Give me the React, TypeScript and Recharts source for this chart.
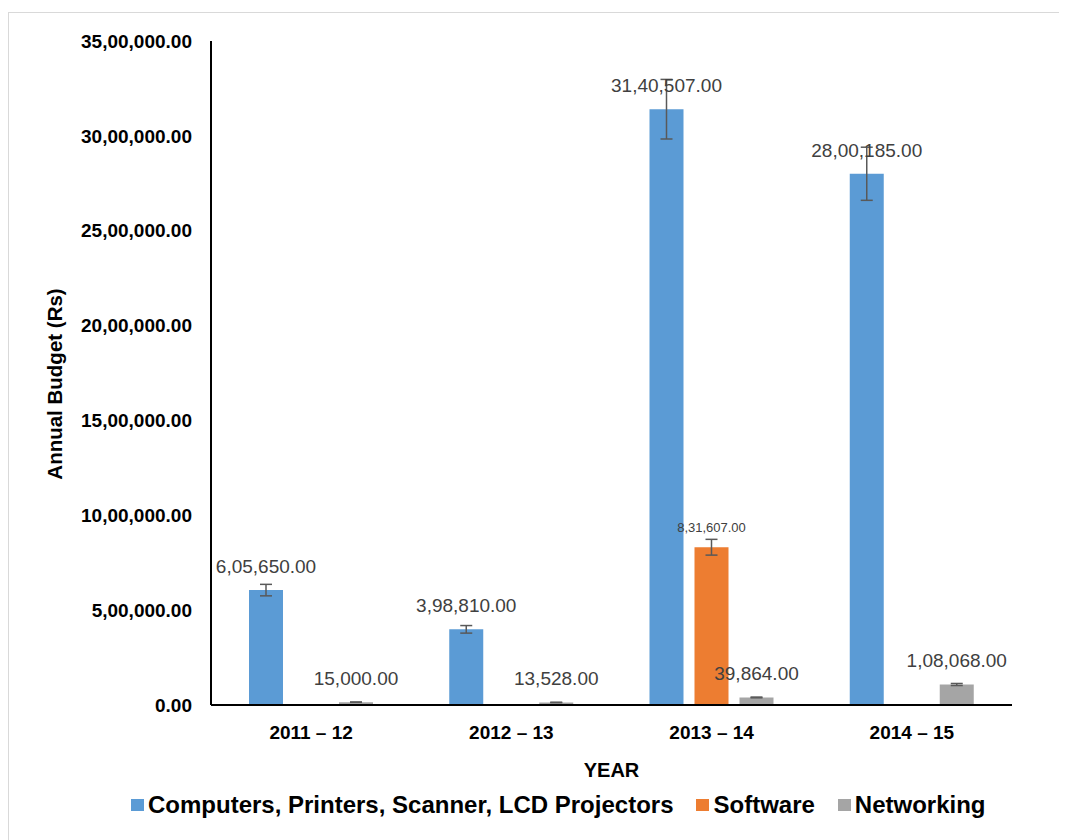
import { BarChart, Bar, XAxis, YAxis, Legend, LabelList, ErrorBar } from "recharts";

const years = ["2011 – 12", "2012 – 13", "2013 – 14", "2014 – 15"];
const hardware = [605650, 398810, 3140507, 2800185];
const software = [null, null, 831607, null];
const networking = [15000, 13528, 39864, 108068];
// error bar amounts as drawn (about 5% of each value)
const hardwareErr = [30283, 19941, 157025, 140009];
const softwareErr = [null, null, 41580, null];
const networkingErr = [750, 676, 1993, 5403];
const yTicks = [0, 500000, 1000000, 1500000, 2000000, 2500000, 3000000, 3500000];

const seriesNames = ["Computers, Printers, Scanner, LCD Projectors", "Software", "Networking"];
const colors = ["#5b9bd5", "#ed7d31", "#a5a5a5"];

const data = years.map((year, i) => ({
  year,
  hardware: hardware[i],
  software: software[i],
  networking: networking[i],
  hardwareErr: hardwareErr[i],
  softwareErr: softwareErr[i],
  networkingErr: networkingErr[i],
}));

// Indian digit grouping: 31,40,507.00
function formatIN(v: number | null | undefined) {
  if (v == null) return "";
  const [int, dec] = Number(v).toFixed(2).split(".");
  let head = int.slice(0, -3);
  const tail = int.slice(-3);
  const groups: string[] = [];
  while (head.length > 2) {
    groups.unshift(head.slice(-2));
    head = head.slice(0, -2);
  }
  if (head) groups.unshift(head);
  groups.push(tail);
  return groups.join(",") + "." + dec;
}

const FONT = "'Liberation Sans', Arial, sans-serif";

function LegendContent() {
  return (
    <div
      style={{
        display: "flex",
        alignItems: "center",
        height: 40,
        paddingTop: 10,
        boxSizing: "border-box",
        paddingLeft: 122,
        fontFamily: FONT,
        fontWeight: 700,
        fontSize: 24,
        color: "#000",
      }}
    >
      {seriesNames.map((name, i) => (
        <div key={name} style={{ display: "flex", alignItems: "center", marginRight: 23 }}>
          <span style={{ display: "inline-block", width: 13, height: 12, background: colors[i], marginRight: 4 }} />
          <span>{name}</span>
        </div>
      ))}
    </div>
  );
}

export default function App() {
  return (
    <div style={{ paddingTop: 4 }}>
      <div
        style={{
          width: 1054,
          height: 830,
          border: "1px solid #d9d9d9",
          background: "#fff",
          fontFamily: FONT,
        }}
      >
        <BarChart
          width={1052}
          height={810}
          data={data}
          margin={{ top: 28, right: 49, left: 0, bottom: 3 }}
          barSize={34}
          barGap={11}
        >
          <XAxis
            dataKey="year"
            height={75}
            tickLine={false}
            tickSize={0}
            tickMargin={21}
            axisLine={{ stroke: "#000", strokeWidth: 2 }}
            tick={{ fill: "#000", fontSize: 19, fontWeight: 700, fontFamily: FONT }}
            label={({ viewBox }: any) => (
              <text
                x={viewBox.x + viewBox.width / 2}
                y={viewBox.y + 72}
                textAnchor="middle"
                fontSize={20}
                fontWeight={700}
                fontFamily={FONT}
                fill="#000"
              >
                YEAR
              </text>
            )}
          />
          <YAxis
            width={202}
            domain={[0, 3500000]}
            ticks={yTicks}
            interval={0}
            tickLine={false}
            tickSize={0}
            tickMargin={19}
            tickFormatter={formatIN}
            axisLine={{ stroke: "#000", strokeWidth: 2 }}
            tick={{ fill: "#000", fontSize: 19, fontWeight: 700, fontFamily: FONT }}
            label={({ viewBox }: any) => {
              const cx = viewBox.x + 45;
              const cy = viewBox.y + viewBox.height / 2 + 11;
              return (
                <text
                  x={cx}
                  y={cy}
                  transform={`rotate(-90 ${cx} ${cy})`}
                  textAnchor="middle"
                  dominantBaseline="central"
                  fontSize={20.5}
                  fontWeight={700}
                  fontFamily={FONT}
                  fill="#000"
                >
                  Annual Budget (Rs)
                </text>
              );
            }}
          />
          <Legend verticalAlign="bottom" content={<LegendContent />} />
          <Bar dataKey="hardware" name={seriesNames[0]} fill={colors[0]} isAnimationActive={false}>
            <ErrorBar dataKey="hardwareErr" width={6} stroke="#595959" strokeWidth={1.5} direction="y" />
            <LabelList
              dataKey="hardware"
              position="top"
              offset={17}
              formatter={formatIN}
              fill="#404040"
              fontSize={19}
              fontFamily={FONT}
            />
          </Bar>
          <Bar dataKey="software" name={seriesNames[1]} fill={colors[1]} isAnimationActive={false}>
            <ErrorBar dataKey="softwareErr" width={6} stroke="#595959" strokeWidth={1.5} direction="y" />
            <LabelList
              dataKey="software"
              position="top"
              offset={15}
              formatter={formatIN}
              fill="#404040"
              fontSize={13}
              fontFamily={FONT}
            />
          </Bar>
          <Bar dataKey="networking" name={seriesNames[2]} fill={colors[2]} isAnimationActive={false}>
            <ErrorBar dataKey="networkingErr" width={6} stroke="#595959" strokeWidth={1.5} direction="y" />
            <LabelList
              dataKey="networking"
              position="top"
              offset={17}
              formatter={formatIN}
              fill="#404040"
              fontSize={19}
              fontFamily={FONT}
            />
          </Bar>
        </BarChart>
      </div>
    </div>
  );
}
